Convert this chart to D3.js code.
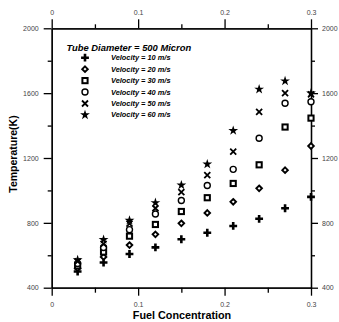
<!DOCTYPE html>
<html>
<head>
<meta charset="utf-8">
<script src="https://cdn.jsdelivr.net/npm/d3@7"></script>
<style>
	body { margin: 0; background: white; }
	text { font-family: Arial, "Liberation Sans", sans-serif; }
</style>
</head>
<body>
<div id="chart"></div>
<script>
// fuel concentration (x) and temperature (K) per velocity
const fuel = [0.03, 0.06, 0.09, 0.12, 0.15, 0.18, 0.21, 0.24, 0.27, 0.30]
const v10 = [500, 555, 608, 649, 699, 739, 781, 825, 890, 960]
const v20 = [520, 590, 663, 729, 797, 861, 930, 1013, 1125, 1274]
const v30 = [535, 620, 718, 790, 870, 955, 1043, 1158, 1391, 1446]
const v40 = [550, 648, 758, 855, 938, 1030, 1130, 1322, 1538, 1547]
const v50 = [562, 670, 795, 890, 990, 1095, 1239, 1484, 1600, 1592]
const v60 = [572, 697, 815, 924, 1033, 1162, 1369, 1624, 1675, 1600]
const seriesNames = ['Velocity = 10 m/s', 'Velocity = 20 m/s', 'Velocity = 30 m/s',
	'Velocity = 40 m/s', 'Velocity = 50 m/s', 'Velocity = 60 m/s']
const markers = ['plus', 'diamond', 'square', 'circle', 'cross', 'star']
const xTicks = [0, 0.1, 0.2, 0.3]
const xMinor = [0.05, 0.15, 0.25]
const yTicks = [400, 800, 1200, 1600, 2000]
const yMinor = [600, 1000, 1400, 1800]

const series = [v10, v20, v30, v40, v50, v60]

const width = 339, height = 322
const svg = d3.select('#chart').append('svg')
	.attr('width', width)
	.attr('height', height)

const xScale = d3.scaleLinear().domain([0, 0.3]).range([51.7, 311])
const yScale = d3.scaleLinear().domain([400, 2000]).range([287.7, 28.3])

const fmt = d => d === 0 ? '0' : d3.format('.1f')(d)
const yFmt = d3.format('d')

// axes (ticks all point outward)
function axis(gen, tr) {
	const g = svg.append('g').attr('transform', tr).call(gen)
	g.select('.domain').attr('stroke', 'black').attr('stroke-width', 1.3)
	g.selectAll('.tick line').attr('stroke', 'black').attr('stroke-width', 1.3)
	g.selectAll('.tick text').attr('font-size', 7).attr('fill', '#444')
	return g
}
axis(d3.axisBottom(xScale).tickValues(xTicks).tickFormat(fmt).tickSize(8).tickSizeOuter(0).tickPadding(6), 'translate(0,287.7)')
axis(d3.axisTop(xScale).tickValues(xTicks).tickFormat(fmt).tickSize(9).tickSizeOuter(0).tickPadding(4), 'translate(0,28.3)')
axis(d3.axisLeft(yScale).tickValues(yTicks).tickFormat(yFmt).tickSize(8).tickSizeOuter(0).tickPadding(5), 'translate(51.7,0)')
axis(d3.axisRight(yScale).tickValues(yTicks).tickFormat(yFmt).tickSize(7).tickSizeOuter(0).tickPadding(4), 'translate(311,0)')

// minor ticks
axis(d3.axisBottom(xScale).tickValues(xMinor).tickFormat('').tickSize(5).tickSizeOuter(0), 'translate(0,287.7)')
axis(d3.axisTop(xScale).tickValues(xMinor).tickFormat('').tickSize(4).tickSizeOuter(0), 'translate(0,28.3)')
axis(d3.axisLeft(yScale).tickValues(yMinor).tickFormat('').tickSize(4).tickSizeOuter(0), 'translate(51.7,0)')
axis(d3.axisRight(yScale).tickValues(yMinor).tickFormat('').tickSize(4).tickSizeOuter(0), 'translate(311,0)')

// axis titles
svg.append('text')
	.attr('x', 182).attr('y', 319)
	.attr('text-anchor', 'middle')
	.attr('font-size', 10.8).attr('font-weight', 'bold')
	.text('Fuel Concentration')
svg.append('text')
	.attr('transform', 'translate(17,154) rotate(-90)')
	.attr('text-anchor', 'middle')
	.attr('font-size', 10.5).attr('font-weight', 'bold')
	.text('Temperature(K)')

// marker drawing
function drawMarker(g, type, x, y) {
	if (type === 'plus') {
		g.append('path')
			.attr('d', d3.symbol(d3.symbolCross, 34)())
			.attr('transform', `translate(${x},${y})`)
			.attr('fill', 'black')
	} else if (type === 'diamond') {
		g.append('path')
			.attr('d', 'M0,-2.8L2.8,0L0,2.8L-2.8,0Z')
			.attr('transform', `translate(${x},${y})`)
			.attr('fill', 'white').attr('stroke', 'black').attr('stroke-width', 1.9)
	} else if (type === 'square') {
		g.append('rect')
			.attr('x', x - 2.6).attr('y', y - 2.6)
			.attr('width', 5.2).attr('height', 5.2)
			.attr('fill', 'white').attr('stroke', 'black').attr('stroke-width', 2)
	} else if (type === 'circle') {
		g.append('circle')
			.attr('cx', x).attr('cy', y).attr('r', 3)
			.attr('fill', 'white').attr('stroke', 'black').attr('stroke-width', 1.4)
	} else if (type === 'cross') {
		g.append('path')
			.attr('d', 'M-3,-3L3,3M-3,3L3,-3')
			.attr('transform', `translate(${x},${y})`)
			.attr('stroke', 'black').attr('stroke-width', 1.8)
	} else {
		g.append('path')
			.attr('d', d3.symbol(d3.symbolStar, 30)())
			.attr('transform', `translate(${x},${y})`)
			.attr('fill', 'black')
	}
}

// data points
const pts = svg.append('g')
for (let s = 0; s < series.length; s++) {
	for (let i = 0; i < fuel.length; i++) {
		drawMarker(pts, markers[s], xScale(fuel[i]), yScale(series[s][i]))
	}
}

// legend
const legend = svg.append('g')
legend.append('text')
	.attr('x', 66.5).attr('y', 50.5)
	.attr('font-size', 9.4).attr('font-weight', 'bold').attr('font-style', 'italic')
	.text('Tube Diameter = 500 Micron')
for (let s = 0; s < seriesNames.length; s++) {
	const yy = 57.7 + s * 11.45
	drawMarker(legend, markers[s], 85, yy)
	legend.append('text')
		.attr('x', 111).attr('y', yy + 2.5)
		.attr('font-size', 7.4).attr('font-weight', 'bold').attr('font-style', 'italic')
		.text(seriesNames[s])
}
</script>
</body>
</html>
